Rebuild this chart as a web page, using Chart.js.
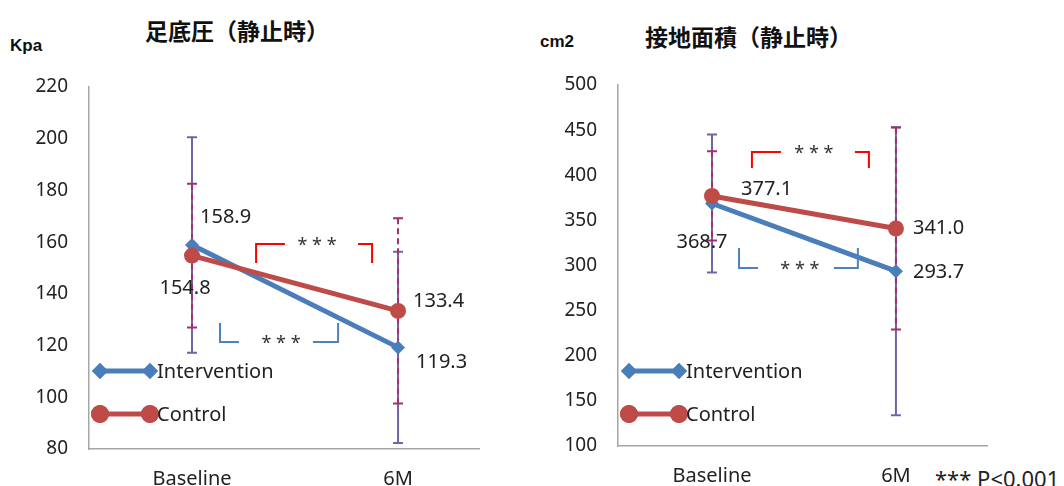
<!DOCTYPE html>
<html>
<head>
<meta charset="utf-8">
<script src="https://cdn.jsdelivr.net/npm/chart.js@4.4.1/dist/chart.umd.min.js"></script>
<style>
  body { margin: 0; background: #fff; width: 1064px; height: 486px; overflow: hidden; position: relative; }
  .box { position: absolute; top: 0; height: 486px; }
  .title { position: absolute; font-family: "Noto Sans CJK JP", sans-serif; font-weight: bold; font-size: 23px; line-height: 1; color: #111; white-space: nowrap; }
  .unit { position: absolute; font-family: "Liberation Sans", sans-serif; font-weight: bold; font-size: 17px; line-height: 1; color: #111; }
  .note { position: absolute; font-family: "Noto Sans", sans-serif; font-size: 22px; line-height: 1; color: #222; white-space: nowrap; }
</style>
</head>
<body>
<div class="title" style="left:145px; top:19px;">足底圧（静止時）</div>
<div class="unit" style="left:10px; top:37px;">Kpa</div>
<div class="title" style="left:645px; top:25px;">接地面積（静止時）</div>
<div class="unit" style="left:540px; top:33px;">cm2</div>
<div class="note" style="left:935px; top:467px;">*** P&lt;0.001</div>

<div class="box" style="left:0; width:530px;"><canvas id="left"></canvas></div>
<div class="box" style="left:530px; width:534px;"><canvas id="right"></canvas></div>

<script>
// data
const categories = ['Baseline', '6M'];
const seriesNames = ['Intervention', 'Control'];

const pressureIntervention = [158.9, 119.3];
const pressureControl = [154.8, 133.4];
const pressureInterventionSD = [41.7, 37.0];
const pressureControlSD = [27.8, 35.8];
const pressureTicks = [80, 100, 120, 140, 160, 180, 200, 220];

const areaIntervention = [368.7, 293.7];
const areaControl = [377.1, 341.0];
const areaInterventionSD = [76.5, 159.5];
const areaControlSD = [49.4, 112.0];
const areaTicks = [100, 150, 200, 250, 300, 350, 400, 450, 500];

const BLUE = '#4A7EBB';
const RED = '#BE4B48';
const FONT = '"Noto Sans", sans-serif';

// error bars drawn under the lines
const errorBars = {
    id: 'errorBars',
    beforeDatasetsDraw(chart, args, opts) {
        const ctx = chart.ctx;
        const y = chart.scales.y;
        const styles = [
            { color: '#7064A8', dash: [] },
            { color: '#A3306A', dash: [6, 4] }
        ];
        ctx.save();
        chart.data.datasets.forEach((ds, di) => {
            const meta = chart.getDatasetMeta(di);
            ctx.strokeStyle = styles[di].color;
            ctx.lineWidth = 2;
            meta.data.forEach((pt, i) => {
                const v = ds.data[i].y;
                const sd = ds.sd[i];
                const top = y.getPixelForValue(v + sd);
                const bot = y.getPixelForValue(v - sd);
                ctx.setLineDash(styles[di].dash);
                ctx.beginPath();
                ctx.moveTo(pt.x, top);
                ctx.lineTo(pt.x, bot);
                ctx.stroke();
                ctx.setLineDash([]);
                ctx.beginPath();
                ctx.moveTo(pt.x - 5, top); ctx.lineTo(pt.x + 5, top);
                ctx.moveTo(pt.x - 5, bot); ctx.lineTo(pt.x + 5, bot);
                ctx.stroke();
            });
        });
        ctx.restore();
    }
};

// value labels beside each point
const valueLabels = {
    id: 'valueLabels',
    afterDatasetsDraw(chart, args, opts) {
        const ctx = chart.ctx;
        ctx.save();
        ctx.font = '20px ' + FONT;
        ctx.fillStyle = '#222';
        ctx.textBaseline = 'middle';
        chart.data.datasets.forEach((ds, di) => {
            const meta = chart.getDatasetMeta(di);
            meta.data.forEach((pt, i) => {
                const o = opts.offsets[di][i];
                ctx.textAlign = o[2];
                ctx.fillText(ds.data[i].y.toFixed(1), pt.x + o[0], pt.y + o[1]);
            });
        });
        ctx.restore();
    }
};

// significance brackets and the in-plot legend
const extras = {
    id: 'extras',
    afterDraw(chart, args, opts) {
        const ctx = chart.ctx;
        const xs = chart.scales.x, ys = chart.scales.y;
        const px = v => xs.getPixelForValue(v);
        const py = v => ys.getPixelForValue(v);
        ctx.save();
        ctx.lineWidth = 2;
        opts.brackets.forEach(b => {
            ctx.strokeStyle = b.color;
            const yEdge = py(b.edge), yEnd = py(b.tip);
            ctx.beginPath();
            ctx.moveTo(px(b.x[0]), yEnd); ctx.lineTo(px(b.x[0]), yEdge); ctx.lineTo(px(b.x[1]), yEdge);
            ctx.moveTo(px(b.x[2]), yEdge); ctx.lineTo(px(b.x[3]), yEdge); ctx.lineTo(px(b.x[3]), yEnd);
            ctx.stroke();
            ctx.fillStyle = '#333';
            ctx.font = '18px ' + FONT;
            ctx.textAlign = 'center';
            ctx.textBaseline = 'middle';
            ctx.fillText('* * *', px(b.star), py(b.edge) + 2);
        });

        // legend
        const area = chart.chartArea;
        const x0 = area.left + 11, x1 = area.left + 61;
        chart.data.datasets.forEach((ds, di) => {
            const yy = area.bottom + opts.legendY[di];
            ctx.strokeStyle = ds.borderColor;
            ctx.lineWidth = 5;
            ctx.beginPath();
            ctx.moveTo(x0, yy); ctx.lineTo(x1, yy);
            ctx.stroke();
            ctx.fillStyle = ds.borderColor;
            [x0, x1].forEach(mx => {
                Chart.helpers.drawPoint(ctx, {
                    pointStyle: ds.pointStyle, radius: ds.pointRadius + 1, borderWidth: 0
                }, mx, yy);
                ctx.fill();
            });
            ctx.fillStyle = '#222';
            ctx.font = '20px ' + FONT;
            ctx.textAlign = 'left';
            ctx.textBaseline = 'middle';
            ctx.fillText(ds.label, x1 + 7, yy + 1);
        });
        ctx.restore();
    }
};

function makeChart(id, cfg) {
    const toPoints = arr => arr.map((v, i) => ({ x: i, y: v }));
    return new Chart(document.getElementById(id), {
        type: 'line',
        data: {
            datasets: [
                {
                    label: seriesNames[0],
                    data: toPoints(cfg.intervention),
                    sd: cfg.interventionSD,
                    borderColor: BLUE,
                    backgroundColor: BLUE,
                    borderWidth: 5,
                    pointStyle: 'rectRot',
                    pointRadius: 7,
                    pointBorderWidth: 0,
                    order: 1
                },
                {
                    label: seriesNames[1],
                    data: toPoints(cfg.control),
                    sd: cfg.controlSD,
                    borderColor: RED,
                    backgroundColor: RED,
                    borderWidth: 5,
                    pointStyle: 'circle',
                    pointRadius: 8,
                    pointBorderWidth: 0,
                    order: 0
                }
            ]
        },
        options: {
            responsive: true,
            maintainAspectRatio: false,
            animation: false,
            layout: { padding: { left: 0, right: cfg.padRight, top: cfg.padTop, bottom: 0 } },
            plugins: {
                legend: { display: false },
                tooltip: { enabled: false },
                valueLabels: { offsets: cfg.labelOffsets },
                extras: { brackets: cfg.brackets, legendY: cfg.legendY }
            },
            scales: {
                x: {
                    type: 'linear',
                    min: cfg.xMin,
                    max: cfg.xMax,
                    afterBuildTicks: s => { s.ticks = categories.map((c, i) => ({ value: i })); },
                    afterFit: s => { s.height = cfg.xHeight; },
                    grid: { display: false, drawTicks: false },
                    border: { display: true, color: '#A6A6A6', width: 1.5 },
                    ticks: {
                        padding: 18,
                        color: '#222',
                        font: { family: FONT, size: 20 },
                        callback: v => categories[v]
                    }
                },
                y: {
                    min: cfg.ticks[0],
                    max: cfg.ticks[cfg.ticks.length - 1],
                    afterBuildTicks: s => { s.ticks = cfg.ticks.map(v => ({ value: v })); },
                    afterFit: s => { s.width = cfg.yWidth; },
                    grid: { display: false, drawTicks: false },
                    border: { display: true, color: '#A6A6A6', width: 1.5 },
                    ticks: {
                        padding: 21,
                        color: '#222',
                        font: { family: FONT, size: 19 }
                    }
                }
            }
        },
        plugins: [errorBars, valueLabels, extras]
    });
}

makeChart('left', {
    intervention: pressureIntervention,
    control: pressureControl,
    interventionSD: pressureInterventionSD,
    controlSD: pressureControlSD,
    ticks: pressureTicks,
    xMin: -0.5, xMax: 1.393,
    yWidth: 89, xHeight: 37, padRight: 51, padTop: 87,
    legendY: [-78, -35],
    labelOffsets: [
        [[8, -28, 'left'], [18, 15, 'left']],
        [[-7, 33, 'center'], [15, -10, 'left']]
    ],
    brackets: [
        { color: '#FF0000', x: [0.311, 0.451, 0.806, 0.874], edge: 159.3, tip: 151.9, star: 0.607 },
        { color: '#4F81BD', x: [0.136, 0.228, 0.587, 0.709], edge: 121.4, tip: 128.7, star: 0.432 }
    ]
});

makeChart('right', {
    intervention: areaIntervention,
    control: areaControl,
    interventionSD: areaInterventionSD,
    controlSD: areaControlSD,
    ticks: areaTicks,
    xMin: -0.511, xMax: 1.495,
    yWidth: 88, xHeight: 40, padRight: 77, padTop: 85,
    legendY: [-75, -32],
    labelOffsets: [
        [[-10, 39, 'center'], [17, 1, 'left']],
        [[29, -7, 'left'], [17, 0, 'left']]
    ],
    brackets: [
        { color: '#FF0000', x: [0.217, 0.375, 0.777, 0.853], edge: 425.7, tip: 408, star: 0.554 },
        { color: '#4F81BD', x: [0.147, 0.25, 0.663, 0.793], edge: 297.1, tip: 319.3, star: 0.478 }
    ]
});
</script>
</body>
</html>
